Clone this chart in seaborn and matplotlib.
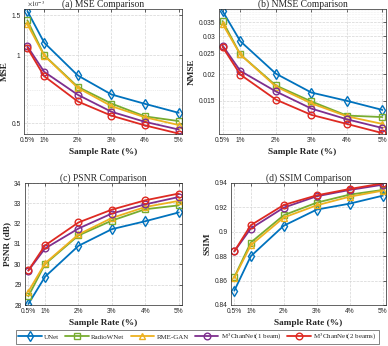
import numpy as np
import pandas as pd
import matplotlib
matplotlib.use("Agg")
import matplotlib.pyplot as plt
import seaborn as sns
from matplotlib.ticker import FixedLocator, NullFormatter

# sample rates (%)
rates = [0.5, 1, 2, 3, 4, 5]
rate_labels = ["0.5%", "1%", "2%", "3%", "4%", "5%"]

methods = ["UNet", "RadioWNet", "RME-GAN",
           "M$^3$ChanNet(1 beam)", "M$^3$ChanNet(2 beams)"]
colors = ["#0072BD", "#77AC30", "#EDB120", "#7E2F8E", "#DE2A22"]
markers = ["d", "s", "^", "o", "o"]

# MSE (x 1e-3)
mse_unet = [1.567, 1.137, 0.814, 0.671, 0.610, 0.557]
mse_radiow = [1.426, 1.000, 0.725, 0.612, 0.537, 0.512]
mse_rmegan = [1.370, 0.997, 0.718, 0.596, 0.532, 0.492]
mse_m3_1 = [1.095, 0.845, 0.669, 0.563, 0.508, 0.470]
mse_m3_2 = [1.077, 0.808, 0.625, 0.541, 0.490, 0.451]

# NMSE
nmse_unet = [0.0394, 0.0285, 0.0201, 0.0164, 0.0150, 0.0136]
nmse_radiow = [0.0354, 0.0247, 0.0177, 0.0149, 0.0128, 0.0126]
nmse_rmegan = [0.0343, 0.0247, 0.0175, 0.0146, 0.0127, 0.0117]
nmse_m3_1 = [0.0272, 0.0207, 0.0166, 0.0138, 0.0123, 0.0112]
nmse_m3_2 = [0.0268, 0.0199, 0.0152, 0.0129, 0.0117, 0.0106]

# PSNR (dB)
psnr_unet = [28.05, 29.39, 30.91, 31.73, 32.12, 32.55]
psnr_radiow = [28.43, 30.01, 31.42, 32.15, 32.71, 32.90]
psnr_rmegan = [28.66, 30.05, 31.47, 32.28, 32.82, 33.12]
psnr_m3_1 = [29.69, 30.78, 31.76, 32.50, 32.95, 33.31]
psnr_m3_2 = [29.70, 30.93, 32.06, 32.69, 33.15, 33.48]

# SSIM
ssim_unet = [0.8517, 0.8800, 0.9050, 0.9182, 0.9231, 0.9296]
ssim_radiow = [0.8629, 0.8912, 0.9136, 0.9239, 0.9305, 0.9343]
ssim_rmegan = [0.8623, 0.8890, 0.9117, 0.9217, 0.9288, 0.9337]
ssim_m3_1 = [0.8839, 0.9027, 0.9198, 0.9291, 0.9343, 0.9386]
ssim_m3_2 = [0.8840, 0.9054, 0.9220, 0.9299, 0.9351, 0.9397]

panels = [
    ("(a) MSE Comparison", "MSE",
     [mse_unet, mse_radiow, mse_rmegan, mse_m3_1, mse_m3_2]),
    ("(b) NMSE Comparison", "NMSE",
     [nmse_unet, nmse_radiow, nmse_rmegan, nmse_m3_1, nmse_m3_2]),
    ("(c) PSNR Comparison", "PSNR (dB)",
     [psnr_unet, psnr_radiow, psnr_rmegan, psnr_m3_1, psnr_m3_2]),
    ("(d) SSIM Comparison", "SSIM",
     [ssim_unet, ssim_radiow, ssim_rmegan, ssim_m3_1, ssim_m3_2]),
]

sns.set_style("whitegrid")
plt.rcParams["font.family"] = ["Liberation Serif", "DejaVu Serif"]
plt.rcParams["mathtext.fontset"] = "stix"

fig = plt.figure(figsize=(3.88, 3.46), dpi=100)
W, H = 388, 346
boxes = [(24, 182, 9, 134), (219, 386, 9, 134),
         (25, 182, 183, 305), (231, 386, 183, 305)]

axes = []
for (x0, x1, y0, y1) in boxes:
    axes.append(fig.add_axes([x0 / W, (H - y1) / H, (x1 - x0) / W, (y1 - y0) / H]))

for ax, (title, ylabel, series) in zip(axes, panels):
    for name, vals, c, m in zip(methods, series, colors, markers):
        df = pd.DataFrame({"rate": rates, "value": vals})
        sns.lineplot(data=df, x="rate", y="value", ax=ax, color=c,
                     marker=m, markersize=4.8, markeredgecolor=c,
                     markerfacecolor="none", markeredgewidth=1.0,
                     linewidth=1.3, label=name, legend=False)
    ax.set_title(title, fontsize=6.9, pad=1.5)
    ax.set_xlabel("Sample Rate (%)", fontsize=6.7, fontweight="bold", labelpad=2.5)
    ax.set_ylabel(ylabel, fontsize=6.7, fontweight="bold", labelpad=2)
    ax.set_xlim(0.4, 5.1)
    ax.set_xticks(rates)
    ax.set_xticklabels(rate_labels)
    ax.grid(True, which="major", linestyle="--", color="#d4d4d4", linewidth=0.5)
    ax.tick_params(labelsize=4.8, direction="in", length=2, width=0.5, pad=2.5,
                   top=True, right=True, colors="#262626")
    for lab in ax.get_xticklabels() + ax.get_yticklabels():
        lab.set_fontfamily(["Liberation Sans", "DejaVu Sans"])
    for sp in ax.spines.values():
        sp.set_color("#262626")
        sp.set_linewidth(0.5)

# (a) MSE, log scale
ax = axes[0]
ax.set_yscale("log")
ax.set_ylim(0.449, 1.6)
ax.yaxis.set_major_locator(FixedLocator([0.5, 1, 1.5]))
ax.set_yticklabels(["0.5", "1", "1.5"])
ax.yaxis.set_minor_locator(FixedLocator([0.6, 0.7, 0.8, 0.9]))
ax.yaxis.set_minor_formatter(NullFormatter())
ax.grid(True, which="minor", axis="y", linestyle=":", color="#d9d9d9", linewidth=0.5)
ax.text(0.02, 1.005, r"$\times 10^{-3}$", transform=ax.transAxes, fontsize=4.8,
        ha="left", va="bottom", family=["Liberation Sans", "DejaVu Sans"])

# (b) NMSE, log scale
ax = axes[1]
ax.set_yscale("log")
ax.set_ylim(0.0105, 0.0403)
ax.yaxis.set_major_locator(FixedLocator([0.015, 0.02, 0.025, 0.03, 0.035]))
ax.set_yticklabels(["0.015", "0.02", "0.025", "0.03", "0.035"])
ax.yaxis.set_minor_locator(FixedLocator(list(np.arange(0.011, 0.041, 0.001))))
ax.yaxis.set_minor_formatter(NullFormatter())
ax.grid(True, which="minor", axis="y", linestyle=":", color="#e2e2e2", linewidth=0.4)

# (c) PSNR
axes[2].set_ylim(28, 34)
axes[2].set_yticks([28, 29, 30, 31, 32, 33, 34])
# (d) SSIM
axes[3].set_ylim(0.84, 0.94)
axes[3].set_yticks([0.84, 0.86, 0.88, 0.9, 0.92, 0.94])
axes[3].set_yticklabels(["0.84", "0.86", "0.88", "0.9", "0.92", "0.94"])
for ax in axes:
    for lab in ax.get_yticklabels():
        lab.set_fontfamily(["Liberation Sans", "DejaVu Sans"])
        lab.set_fontsize(4.8)
    ax.tick_params(which="minor", length=1, width=0.4, direction="in")

handles, labels = axes[0].get_legend_handles_labels()
leg = fig.legend(handles, labels, loc="center", bbox_to_anchor=(0.509, 0.026),
                 ncol=5, fontsize=5, frameon=True, fancybox=False,
                 handlelength=3.4, handletextpad=0.3, columnspacing=0.9,
                 borderpad=0.3, borderaxespad=0)
leg.get_frame().set_edgecolor("#262626")
leg.get_frame().set_linewidth(0.5)

fig.savefig("out.png", dpi=100)
